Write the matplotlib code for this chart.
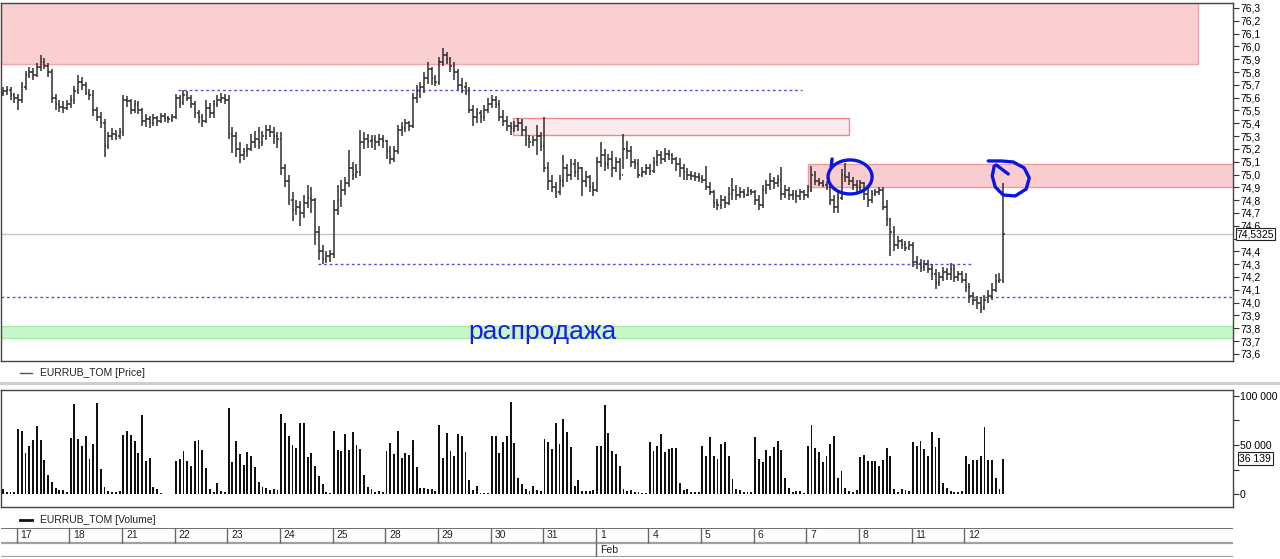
import numpy as np
import matplotlib
matplotlib.use('Agg')
import matplotlib.pyplot as plt
from matplotlib.patches import Rectangle
from matplotlib.lines import Line2D
from matplotlib.transforms import ScaledTranslation, blended_transform_factory

plt.rcParams['font.family'] = ['Liberation Sans', 'DejaVu Sans']

# hourly bars EURRUB_TOM, 14 per session
days = ['17', '18', '21', '22', '23', '24', '25', '28', '29', '30', '31',
        '1', '4', '5', '6', '7', '8', '11', '12']
first_open = 75.64

close = [
    75.65, 75.66, 75.62, 75.60,
    75.58, 75.68, 75.78, 75.80, 75.78, 75.84, 75.88, 75.85, 75.80, 75.60, 75.55, 75.53, 75.52, 75.55,
    75.58, 75.65, 75.72, 75.70, 75.64, 75.62, 75.50, 75.45, 75.40, 75.22, 75.30, 75.32, 75.30, 75.33,
    75.58, 75.57, 75.50, 75.55, 75.50, 75.42, 75.43, 75.40, 75.44, 75.42, 75.46, 75.44, 75.43, 75.45,
    75.60, 75.56, 75.62, 75.60, 75.55, 75.48, 75.45, 75.42, 75.52, 75.48, 75.55, 75.58, 75.60, 75.58,
    75.32, 75.30, 75.20, 75.15, 75.18, 75.20, 75.25, 75.28, 75.25, 75.30, 75.35, 75.33, 75.30, 75.28,
    75.05, 74.95, 74.80, 74.72, 74.75, 74.70, 74.78, 74.82, 74.80, 74.55, 74.40, 74.34, 74.36, 74.38,
    74.72, 74.80, 74.88, 74.93, 75.05, 75.00, 75.02, 75.25, 75.28, 75.26, 75.27, 75.25, 75.28, 75.26,
    75.18, 75.12, 75.18, 75.35, 75.36, 75.40, 75.38, 75.60, 75.65, 75.68, 75.75, 75.82, 75.75, 75.72,
    75.88, 75.93, 75.90, 75.85, 75.80, 75.70, 75.68, 75.65, 75.50, 75.45, 75.48, 75.45, 75.50, 75.55,
    75.58, 75.55, 75.45, 75.42, 75.38, 75.36, 75.38, 75.40, 75.35, 75.28, 75.25, 75.27, 75.30, 75.22,
    75.05, 74.95, 74.90, 74.86, 74.95, 75.05, 75.00, 75.08, 75.02, 75.05, 74.95, 74.98, 74.90, 74.88,
    75.10, 75.15, 75.08, 75.12, 75.05, 75.10, 75.00, 75.20, 75.18, 75.10, 75.08, 75.00, 75.02, 75.05,
    75.03, 75.10, 75.15, 75.12, 75.16, 75.15, 75.12, 75.08, 75.05, 75.02, 75.00, 74.99, 74.98, 74.97,
    74.96, 74.90, 74.86, 74.78, 74.76, 74.80, 74.78, 74.85, 74.88, 74.84, 74.86, 74.84, 74.87, 74.86,
    74.80, 74.76, 74.88, 74.92, 74.95, 74.93, 74.96, 74.85, 74.88, 74.84, 74.85, 74.83, 74.86, 74.84,
    74.88, 75.00, 74.95, 74.93, 74.92, 74.90, 74.80, 74.75, 74.82, 75.00, 74.98, 74.95, 74.92, 74.90,
    74.93, 74.85, 74.80, 74.85, 74.86, 74.88, 74.75, 74.65, 74.55, 74.45, 74.48, 74.45, 74.43, 74.45,
    74.32, 74.30, 74.28, 74.30, 74.26, 74.22, 74.16, 74.20, 74.24, 74.22, 74.26, 74.20, 74.22, 74.18,
    74.12, 74.05, 74.02, 74.00, 73.96, 74.02, 74.05, 74.10, 74.17, 74.18, 74.5325,
]

high = [
    75.68, 75.69, 75.68, 75.64,
    75.63, 75.72, 75.81, 75.84, 75.83, 75.87, 75.93, 75.91, 75.87, 75.82, 75.63, 75.58, 75.57, 75.58,
    75.62, 75.69, 75.78, 75.76, 75.72, 75.67, 75.66, 75.53, 75.49, 75.43, 75.33, 75.36, 75.35, 75.36,
    75.62, 75.61, 75.59, 75.58, 75.57, 75.52, 75.47, 75.46, 75.47, 75.46, 75.48, 75.48, 75.46, 75.47,
    75.63, 75.62, 75.66, 75.65, 75.62, 75.57, 75.50, 75.47, 75.58, 75.56, 75.58, 75.62, 75.64, 75.63,
    75.62, 75.37, 75.33, 75.25, 75.21, 75.24, 75.32, 75.34, 75.37, 75.34, 75.39, 75.39, 75.37, 75.33,
    75.33, 75.08, 75.00, 74.86, 74.80, 74.79, 74.84, 74.92, 74.90, 74.82, 74.60, 74.45, 74.40, 74.41,
    74.80, 74.92, 74.96, 74.98, 75.19, 75.10, 75.08, 75.35, 75.33, 75.32, 75.31, 75.31, 75.32, 75.31,
    75.27, 75.22, 75.22, 75.39, 75.41, 75.43, 75.42, 75.64, 75.70, 75.72, 75.80, 75.88, 75.84, 75.78,
    75.92, 75.99, 75.96, 75.92, 75.88, 75.82, 75.75, 75.72, 75.68, 75.54, 75.52, 75.50, 75.54, 75.60,
    75.62, 75.61, 75.58, 75.50, 75.46, 75.41, 75.42, 75.44, 75.43, 75.38, 75.31, 75.30, 75.39, 75.33,
    75.45, 75.10, 75.00, 74.94, 75.00, 75.15, 75.08, 75.12, 75.12, 75.10, 75.06, 75.03, 75.00, 74.94,
    75.14, 75.25, 75.20, 75.16, 75.18, 75.14, 75.13, 75.32, 75.26, 75.22, 75.12, 75.12, 75.06, 75.08,
    75.08, 75.14, 75.19, 75.18, 75.21, 75.19, 75.17, 75.14, 75.13, 75.08, 75.05, 75.03, 75.02, 75.01,
    75.00, 75.07, 74.94, 74.88, 74.81, 74.84, 74.83, 74.90, 74.97, 74.92, 74.90, 74.89, 74.90, 74.89,
    74.88, 74.84, 74.92, 74.96, 75.01, 74.98, 75.00, 75.06, 74.92, 74.90, 74.88, 74.88, 74.89, 74.88,
    74.92, 75.07, 75.03, 74.97, 74.96, 74.95, 74.92, 74.84, 74.86, 75.04, 75.09, 75.02, 74.98, 74.96,
    74.96, 74.94, 74.90, 74.88, 74.89, 74.90, 74.90, 74.80, 74.66, 74.60, 74.52, 74.50, 74.48, 74.48,
    74.47, 74.36, 74.34, 74.33, 74.33, 74.30, 74.26, 74.24, 74.28, 74.27, 74.31, 74.29, 74.25, 74.25,
    74.23, 74.15, 74.08, 74.05, 74.04, 74.06, 74.10, 74.15, 74.22, 74.23, 74.93,
]

low = [
    75.61, 75.62, 75.58, 75.56,
    75.50, 75.56, 75.66, 75.75, 75.74, 75.76, 75.81, 75.82, 75.76, 75.56, 75.50, 75.49, 75.48, 75.50,
    75.52, 75.55, 75.63, 75.66, 75.62, 75.58, 75.46, 75.42, 75.36, 75.14, 75.20, 75.27, 75.27, 75.28,
    75.30, 75.53, 75.47, 75.48, 75.47, 75.38, 75.37, 75.36, 75.38, 75.38, 75.40, 75.41, 75.40, 75.41,
    75.43, 75.52, 75.54, 75.57, 75.52, 75.44, 75.40, 75.37, 75.40, 75.44, 75.44, 75.53, 75.56, 75.55,
    75.28, 75.17, 75.14, 75.09, 75.11, 75.14, 75.18, 75.21, 75.20, 75.22, 75.27, 75.29, 75.24, 75.21,
    75.00, 74.90, 74.76, 74.64, 74.68, 74.60, 74.66, 74.74, 74.70, 74.45, 74.33, 74.30, 74.31, 74.32,
    74.35, 74.68, 74.75, 74.84, 74.90, 74.96, 74.97, 74.99, 75.20, 75.21, 75.21, 75.19, 75.22, 75.21,
    75.12, 75.08, 75.10, 75.16, 75.30, 75.33, 75.34, 75.36, 75.56, 75.60, 75.64, 75.71, 75.70, 75.69,
    75.70, 75.85, 75.86, 75.80, 75.74, 75.66, 75.64, 75.62, 75.48, 75.38, 75.40, 75.40, 75.42, 75.48,
    75.52, 75.52, 75.42, 75.38, 75.34, 75.31, 75.33, 75.34, 75.30, 75.22, 75.21, 75.22, 75.15, 75.18,
    75.02, 74.88, 74.86, 74.82, 74.84, 74.90, 74.94, 74.96, 74.98, 74.96, 74.83, 74.90, 74.86, 74.83,
    74.86, 75.06, 75.03, 75.04, 74.98, 75.02, 74.96, 75.04, 75.12, 75.06, 75.04, 74.97, 74.98, 75.00,
    75.00, 75.01, 75.07, 75.08, 75.10, 75.11, 75.08, 75.03, 74.98, 74.96, 74.96, 74.96, 74.95, 74.94,
    74.93, 74.88, 74.84, 74.74, 74.72, 74.73, 74.74, 74.76, 74.80, 74.80, 74.82, 74.82, 74.83, 74.84,
    74.76, 74.72, 74.74, 74.85, 74.88, 74.89, 74.90, 74.80, 74.82, 74.80, 74.80, 74.78, 74.80, 74.80,
    74.82, 74.86, 74.92, 74.91, 74.90, 74.88, 74.76, 74.70, 74.70, 74.80, 74.94, 74.92, 74.88, 74.86,
    74.86, 74.80, 74.75, 74.78, 74.83, 74.84, 74.72, 74.60, 74.36, 74.40, 74.42, 74.42, 74.40, 74.41,
    74.28, 74.26, 74.24, 74.25, 74.23, 74.18, 74.11, 74.13, 74.17, 74.18, 74.18, 74.16, 74.17, 74.15,
    74.08, 74.00, 73.98, 73.95, 73.92, 73.94, 74.00, 74.02, 74.08, 74.15, 74.15,
]

volume = [
    5000, 2700, 2700, 2700,
    66500, 64000, 42000, 49000, 55000, 69000, 55000, 35000, 20000, 12400, 6700, 4000, 4000, 2700,
    57000, 92000, 56000, 49000, 59000, 36000, 51000, 93000, 26000, 7700, 3400, 2400, 2700, 3400,
    60000, 64500, 60000, 54000, 42000, 81000, 34000, 37000, 7700, 5000, 1700, 700, 700, 700,
    34000, 36000, 44000, 34000, 29000, 54000, 55000, 45000, 27000, 5000, 2700, 11000, 3400, 2400,
    88000, 33000, 54000, 41000, 30000, 43000, 39000, 28000, 12000, 7400, 6400, 4000, 5000, 4400,
    82000, 72000, 59000, 50000, 47000, 72000, 72000, 38000, 42000, 29000, 19000, 10000, 2400, 1700,
    64500, 45000, 44000, 61000, 45000, 63000, 50000, 46000, 20000, 7700, 5000, 2400, 3400, 2400,
    44000, 52000, 41000, 64500, 37000, 42000, 40000, 55000, 28000, 6700, 6700, 5700, 5000, 3400,
    70500, 37000, 62000, 44000, 39000, 61000, 59000, 43000, 14000, 4000, 8400, 1700, 1700, 1700,
    59000, 59000, 42000, 53000, 59000, 94000, 52000, 16000, 10000, 5000, 3400, 8400, 4400, 3400,
    56000, 53000, 46000, 72000, 51000, 76000, 63000, 48000, 8400, 14000, 3400, 3400, 3400, 4400,
    49000, 49000, 91000, 62000, 44000, 41000, 29000, 5000, 3400, 4000, 2400, 2400, 1700, 1700,
    53000, 44000, 49000, 61000, 43000, 46000, 47000, 47000, 11000, 4400, 5000, 2400, 2400, 2400,
    49000, 39000, 58000, 39000, 36000, 51000, 53000, 39000, 15000, 5000, 4400, 2400, 2400, 2400,
    58000, 36000, 33000, 45000, 39000, 48000, 54000, 45000, 17000, 6700, 2400, 3400, 3400, 1700,
    49000, 70500, 47000, 43000, 33000, 39000, 51000, 59000, 16000, 23500, 6700, 3400, 2400, 4400,
    38000, 40000, 34000, 34000, 34000, 29000, 35000, 47000, 39000, 5700, 2400, 5000, 4000, 3400,
    53000, 49000, 54000, 46000, 39000, 63000, 48000, 57000, 11000, 6700, 3400, 2400, 2400, 3400,
    39000, 31000, 35000, 35000, 39000, 68000, 35000, 35000, 16000, 5700, 36139,
]

# levels drawn on the chart
resist_top = (75.86, 76.60)
resist_mid = (75.31, 75.44)
resist_low = (74.90, 75.08)
support_zone = (73.72, 73.82)
level_a = 75.66
level_b = 74.30
level_c = 74.04

close = np.array(close)
high = np.array(high)
low = np.array(low)
open_ = np.r_[first_open, close[:-1]]
n = len(close)
x = np.arange(n)
day_start = [4 + 14 * k for k in range(len(days))]

W, H = 1280, 559
fig = plt.figure(figsize=(W / 100, H / 100), dpi=100)


def box(x0, y0, x1, y1):
    return [x0 / W, 1 - y1 / H, (x1 - x0) / W, (y1 - y0) / H]


XL = (-0.53, 327.1)
edge = '#444444'

# ---- price panel
ax = fig.add_axes(box(1, 3, 1233, 361))
ax.set_xlim(*XL)
ax.set_ylim(73.544, 76.339)

ax.add_patch(Rectangle((-2, resist_top[0]), 319.8, resist_top[1] - resist_top[0],
                       fc='#f9cfd1', ec='#f0a3aa', lw=1, zorder=1))
ax.add_patch(Rectangle((135.6, resist_mid[0]), 89.4, resist_mid[1] - resist_mid[0],
                       fc='#fbeaec', ec='#ec8990', lw=1, zorder=1))
ax.add_patch(Rectangle((214, resist_low[0]), 120, resist_low[1] - resist_low[0],
                       fc='#f9cdd0', ec='#ee9aa1', lw=1, zorder=1))
ax.add_patch(Rectangle((-2, support_zone[0]), 335, support_zone[1] - support_zone[0],
                       fc='#c9f6c9', ec='#a5eaa5', lw=1, zorder=1))

dash = dict(color='#5656d4', lw=1, linestyle=(0, (2, 2)), zorder=2)
ax.hlines(level_a, 46.5, 212.5, **dash)
ax.hlines(level_b, 83.8, 257.7, **dash)
ax.axhline(level_c, **dash)
ax.axhline(close[-1], color='#c4c4c4', lw=1, zorder=2)

bc = '#2e2e2e'
ax.vlines(x, low, high, color=bc, lw=1.1, zorder=3)
ax.hlines(open_, x - 0.45, x, color=bc, lw=1.1, zorder=3)
ax.hlines(close, x, x + 0.45, color=bc, lw=1.1, zorder=3)

ax.text(143.4, 73.77, 'распродажа', color='#1c1ce6', fontsize=19,
        ha='center', va='center', zorder=4)

# hand drawn marks, offsets in pixels from a bar high
def stroke(anchor, pts, **kw):
    t = fig.dpi_scale_trans + ScaledTranslation(anchor[0], anchor[1], ax.transData)
    pts = np.asarray(pts, dtype=float) / 100.0
    ax.plot(pts[:, 0], pts[:, 1], transform=t, **kw)


pen = dict(color='#0a16e0', lw=2.4, solid_capstyle='round',
           solid_joinstyle='round', zorder=5, clip_on=False)
th = np.radians(np.linspace(150, 505, 60))
ring = np.c_[1 + 22 * np.cos(th), -5 + 17 * np.sin(th)]
stroke((225, high[225]), np.r_[[[-17, 13]], ring], **pen)
stroke((n - 1, high[-1]), [(-15, 22.5), (-2, 22.5), (10, 21.5), (21, 15.5), (26, 5.5),
                           (23, -5.5), (12, -12.5), (0, -11.5), (-8, -3.5),
                           (-11, 7.5), (-9, 17.5)], **pen)
stroke((n - 1, high[-1]), [(-7, 18.5), (5, 9.5)], **pen)

ax.yaxis.tick_right()
pt = np.round(np.arange(73.6, 76.35, 0.1), 1)
ax.set_yticks(pt)
# the 74,5 label sits under the last-price box
ax.set_yticklabels(['' if abs(v - 74.5) < 1e-6 else f'{v:.1f}'.replace('.', ',') for v in pt])
ax.tick_params(axis='y', length=4, width=0.8, color='#333333', labelsize=7.5, pad=1)
ax.set_xticks([])
for s in ax.spines.values():
    s.set_color(edge)
    s.set_linewidth(1)
tr = blended_transform_factory(ax.transAxes, ax.transData)
ax.text(1.003, close[-1], f'{close[-1]:.4f}'.replace('.', ','), transform=tr,
        fontsize=7.5, ha='left', va='center', zorder=6,
        bbox=dict(boxstyle='square,pad=0.1', fc='white', ec='#222222', lw=0.8))

# ---- volume panel
av = fig.add_axes(box(1, 390, 1233, 507))
av.set_xlim(*XL)
av.set_ylim(-13000, 106000)
av.bar(x, volume, width=0.5, color='#111111', zorder=3)
av.yaxis.tick_right()
av.set_yticks([0, 50000, 100000])
av.set_yticklabels(['0', '50 000', '100 000'])
av.set_yticks([25000, 75000], minor=True)
av.tick_params(axis='y', which='both', length=4, width=0.8, color='#333333',
               labelsize=7.5, pad=1)
av.set_xticks([])
for s in av.spines.values():
    s.set_color(edge)
    s.set_linewidth(1)
trv = blended_transform_factory(av.transAxes, av.transData)
av.text(1.005, volume[-1], f'{volume[-1]:,}'.replace(',', ' '), transform=trv,
        fontsize=7.5, ha='left', va='center', zorder=6,
        bbox=dict(boxstyle='square,pad=0.15', fc='white', ec='#222222', lw=0.8))

# ---- legends and separators
def fline(x0, x1, y0, y1, **kw):
    fig.add_artist(Line2D([x0 / W, x1 / W], [1 - y0 / H, 1 - y1 / H], **kw))


fline(20, 32, 373, 373, color='#555555', lw=1)
fig.text(40 / W, 1 - 373 / H, 'EURRUB_TOM [Price]', fontsize=7.5, va='center', color='#222222')
fline(0, 1280, 383, 383, color='#cfcfcf', lw=2.2)
fline(20, 32, 520, 520, color='#111111', lw=2)
fig.text(40 / W, 1 - 520 / H, 'EURRUB_TOM [Volume]', fontsize=7.5, va='center', color='#222222')

# ---- date strip
ad = fig.add_axes(box(1, 528, 1233, 557))
ad.set_xlim(*XL)
ad.set_ylim(0, 2)
ad.axis('off')
ad.axhline(2, color='#555555', lw=1.2)
ad.axhline(1, color='#a0a0a0', lw=1.6)
ad.axhline(0, color='#a0a0a0', lw=1.6)
for d, s in zip(days, day_start):
    ad.vlines(s - 0.35, 1, 2, color='#666666', lw=1)
    ad.text(s + 0.7, 1.5, d, fontsize=7.5, va='center', ha='left', color='#222222')
feb = day_start[days.index('1')]
ad.vlines(feb - 0.35, 0, 1, color='#666666', lw=1)
ad.text(feb + 0.7, 0.5, 'Feb', fontsize=7.5, va='center', ha='left', color='#222222')

fig.savefig('out.png', dpi=100, facecolor='white')
